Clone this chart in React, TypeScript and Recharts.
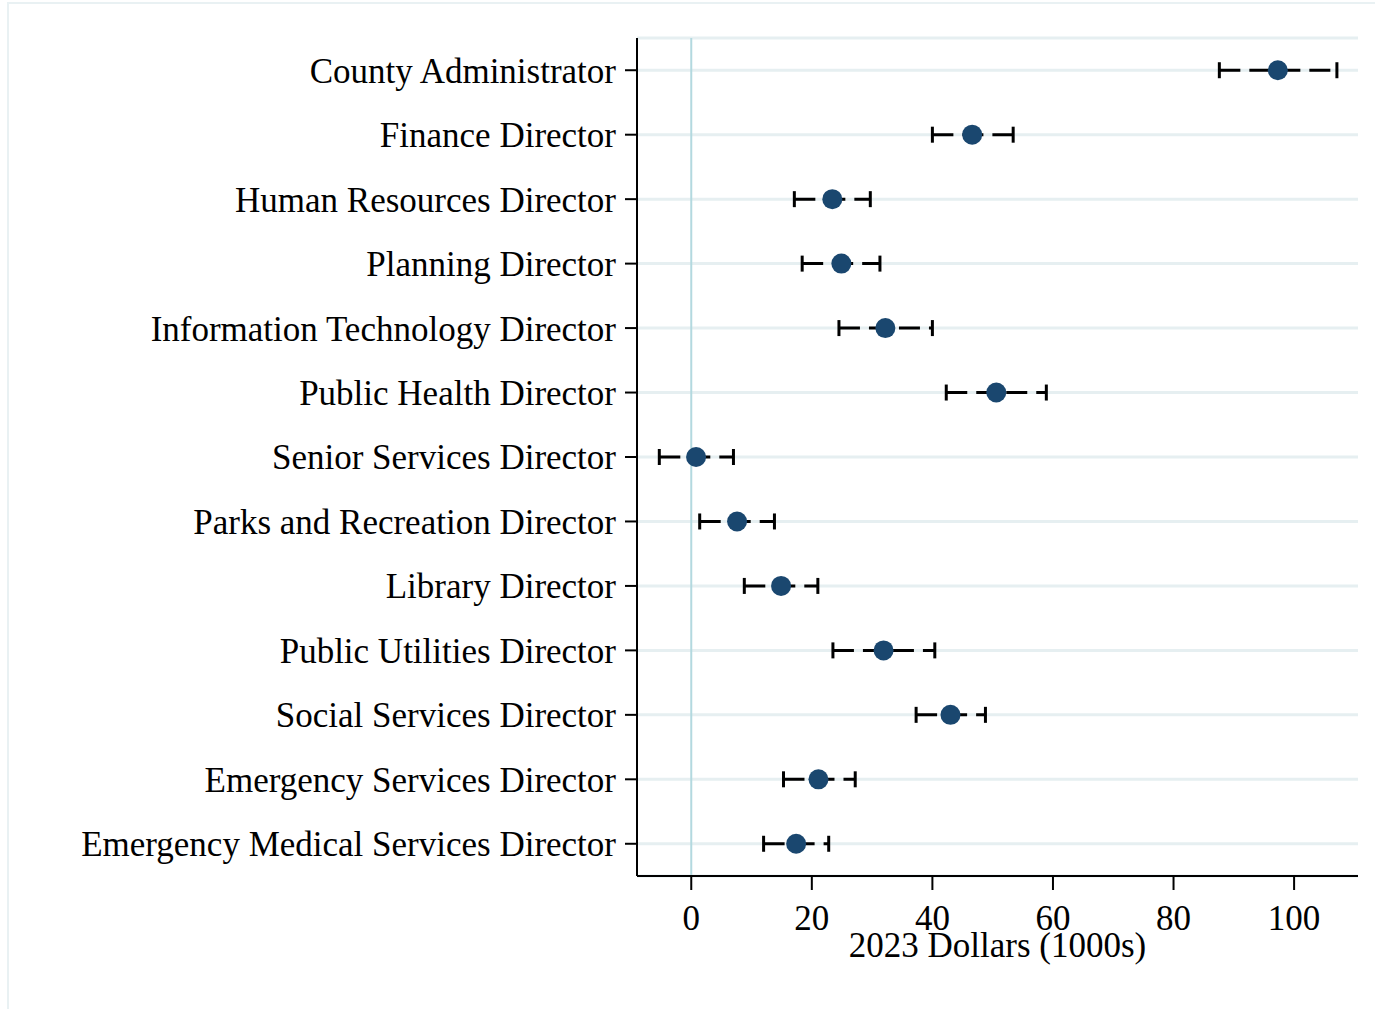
import React from 'react';
import {
  ScatterChart,
  Scatter,
  XAxis,
  YAxis,
  CartesianGrid,
  ReferenceLine,
  ErrorBar,
} from 'recharts';

const roles = [
  'County Administrator',
  'Finance Director',
  'Human Resources Director',
  'Planning Director',
  'Information Technology Director',
  'Public Health Director',
  'Senior Services Director',
  'Parks and Recreation Director',
  'Library Director',
  'Public Utilities Director',
  'Social Services Director',
  'Emergency Services Director',
  'Emergency Medical Services Director',
];

// point estimates and 95% CI, 2023 dollars (1000s)
const estimates = [97.3, 46.6, 23.4, 24.9, 32.2, 50.6, 0.8, 7.6, 14.9, 31.9, 43.0, 21.1, 17.4];
const lower = [87.6, 40.0, 17.1, 18.4, 24.5, 42.3, -5.3, 1.4, 8.8, 23.5, 37.3, 15.3, 12.0];
const upper = [107.1, 53.4, 29.7, 31.3, 40.0, 58.9, 7.0, 13.8, 21.0, 40.4, 48.8, 27.2, 22.8];

const xTicks = [0, 20, 40, 60, 80, 100];

const data = roles.map((name, i) => ({
  name,
  value: estimates[i],
  ci: [estimates[i] - lower[i], upper[i] - estimates[i]],
}));

const FONT = '"Liberation Serif", "Times New Roman", serif';
const NAVY = '#1a476f';

const Dot = (props: any) => {
  if (props.cx == null || props.cy == null) return null;
  return <circle cx={props.cx} cy={props.cy} r={10} fill={NAVY} />;
};

export default function App() {
  return (
    <div
      style={{
        position: 'absolute',
        left: 0,
        top: 0,
        width: 1375,
        height: 1009,
        overflow: 'hidden',
        background: '#fff',
      }}
    >
      <div
        style={{
          position: 'absolute',
          left: 7,
          top: 2,
          width: 1500,
          height: 1200,
          border: '2px solid #e9f1f3',
        }}
      />
      <div style={{ position: 'absolute', left: 0, top: 0 }}>
        <ScatterChart
          width={1375}
          height={1009}
          margin={{ top: 38, right: 17, left: 0, bottom: 52 }}
          style={{ fontFamily: FONT }}
        >
          <CartesianGrid horizontal vertical={false} stroke="#e6eff1" strokeWidth={3} />
          <XAxis
            type="number"
            dataKey="value"
            domain={[-9, 110.6]}
            ticks={xTicks}
            allowDataOverflow
            height={81}
            tickSize={14}
            tickMargin={15}
            axisLine={{ stroke: '#000', strokeWidth: 2 }}
            tickLine={{ stroke: '#000', strokeWidth: 2 }}
            tick={{ fill: '#000', fontSize: 35, fontFamily: FONT }}
            label={{
              value: '2023 Dollars (1000s)',
              position: 'insideBottom',
              offset: 0,
              fill: '#000',
              fontSize: 35,
              fontFamily: FONT,
            }}
          />
          <YAxis
            type="category"
            dataKey="name"
            reversed
            width={637}
            tickSize={12}
            tickMargin={9}
            interval={0}
            axisLine={{ stroke: '#000', strokeWidth: 2 }}
            tickLine={{ stroke: '#000', strokeWidth: 2 }}
            tick={{ fill: '#000', fontSize: 35, fontFamily: FONT }}
          />
          <ReferenceLine x={0} stroke="#b3d9df" strokeWidth={2} />
          <Scatter data={data} shape={<Dot />} isAnimationActive={false}>
            <ErrorBar
              dataKey="ci"
              direction="x"
              width={8}
              stroke="#000"
              strokeWidth={3}
              strokeDasharray="21 9"
              isAnimationActive={false}
            />
          </Scatter>
        </ScatterChart>
      </div>
    </div>
  );
}
